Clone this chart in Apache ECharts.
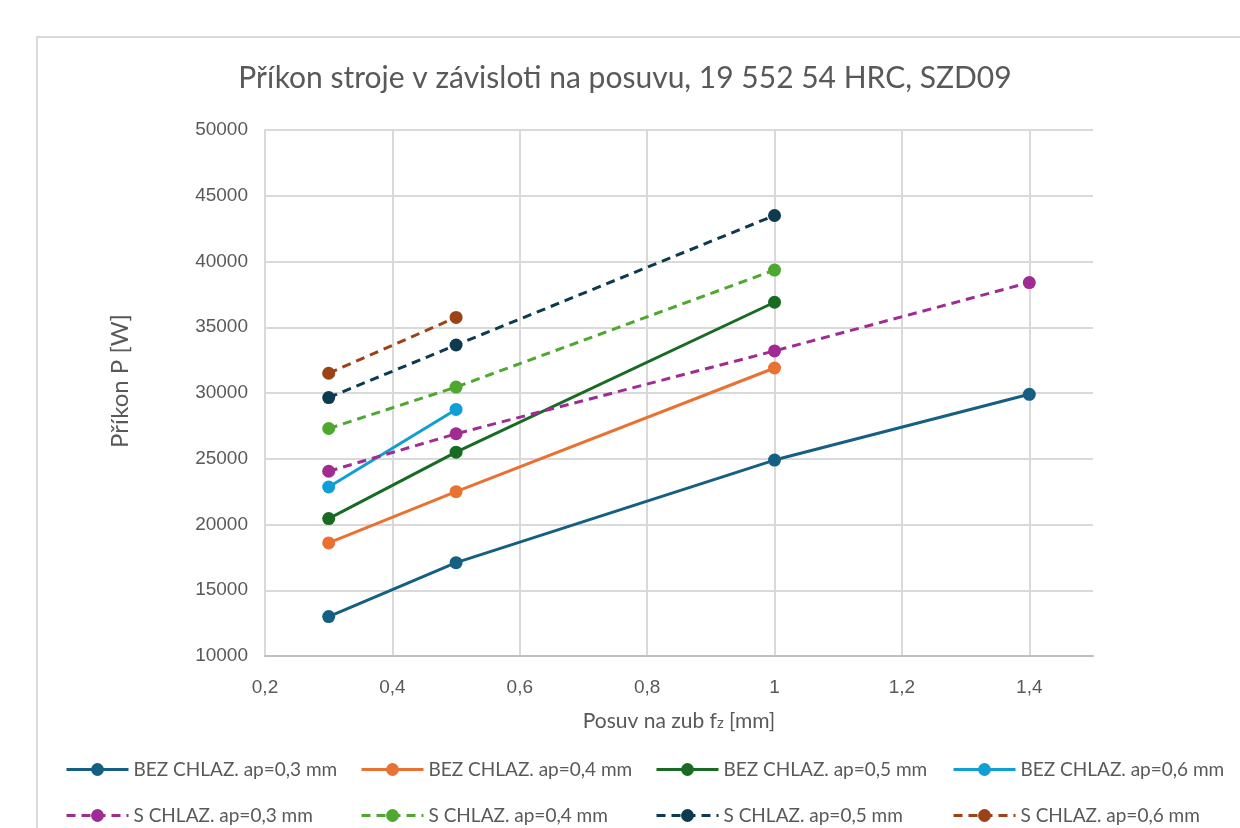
<!DOCTYPE html>
<html>
<head>
<meta charset="utf-8">
<script src="https://cdn.jsdelivr.net/npm/echarts@6/dist/echarts.min.js"></script>
<style>
  html, body { margin: 0; padding: 0; background: #fff; }
  #chart { width: 1240px; height: 828px; }
</style>
</head>
<body>
<div id="chart"></div>
<script>
// posuv na zub fz [mm]
const feeds = [0.3, 0.5, 1, 1.4];

// příkon P [W] - bez chlazení
const bez03 = [13000, 17100, 24900, 29900];
const bez04 = [18600, 22500, 31900];
const bez05 = [20450, 25500, 36900];
const bez06 = [22850, 28750];

// příkon P [W] - s chlazením
const s03 = [24050, 26900, 33200, 38400];
const s04 = [27300, 30450, 39350];
const s05 = [29650, 33650, 43500];
const s06 = [31500, 35750];

const seriesNames = [
  'BEZ CHLAZ. ap=0,3 mm', 'BEZ CHLAZ. ap=0,4 mm', 'BEZ CHLAZ. ap=0,5 mm', 'BEZ CHLAZ. ap=0,6 mm',
  'S CHLAZ. ap=0,3 mm', 'S CHLAZ. ap=0,4 mm', 'S CHLAZ. ap=0,5 mm', 'S CHLAZ. ap=0,6 mm'
];
const seriesValues = [bez03, bez04, bez05, bez06, s03, s04, s05, s06];
const colors = ['#156082', '#E97132', '#196B24', '#0F9ED5', '#A02B93', '#4EA72E', '#0E3A4F', '#9C4316'];

const font = 'Lato';
const numFont = 'Liberation Sans';
const gray = '#595959';

// spáruje posuv s hodnotou
function pairs (vals) {
  return vals.map((v, i) => [feeds[i], v]);
}

let series = seriesValues.map((vals, i) => {
  let dashed = i >= 4;
  return {
    name: seriesNames[i],
    type: 'line',
    data: pairs(vals),
    symbol: 'circle',
    symbolSize: 13,
    color: colors[i],
    lineStyle: { width: 3, type: dashed ? [9, 6] : 'solid', color: colors[i] },
    itemStyle: { color: colors[i] },
    emphasis: { disabled: true },
    animation: false,
    z: 10 - (i % 4)
  };
});

// legenda po sloupcich (BEZ nahoře, S dole)
const legendCols = [65, 360, 655, 952];
const legends = legendCols.map((x, c) => ({
  data: [seriesNames[c], seriesNames[c + 4]],
  orient: 'vertical',
  left: x,
  top: 760,
  padding: 0,
  itemWidth: 62, itemHeight: 16, itemGap: 27,
  lineStyle: { width: 3 },
  textStyle: { color: gray, fontSize: 19, fontFamily: font }
}));

const option = {
  backgroundColor: '#fff',
  title: {
    text: 'Příkon stroje v závisloti na posuvu, 19 552 54 HRC, SZD09',
    left: 625,
    top: 63,
    padding: 0,
    textAlign: 'center',
    textStyle: { color: gray, fontSize: 30, fontWeight: 'normal', fontFamily: font }
  },
  graphic: [{
    type: 'rect',
    shape: { x: 37, y: 37, width: 1300, height: 900 },
    style: { fill: 'none', stroke: '#d9d9d9', lineWidth: 2 },
    silent: true
  }],
  legend: legends,
  grid: { left: 265, right: 147, top: 130, bottom: 172, containLabel: false },
  xAxis: {
    type: 'value',
    min: 0.2, max: 1.5, interval: 0.2,
    name: 'Posuv na zub f{sub|z} [mm]',
    nameLocation: 'middle',
    nameGap: 55,
    nameTextStyle: {
      color: gray, fontSize: 21, fontFamily: font,
      rich: { sub: { fontSize: 15, color: gray, fontFamily: font, padding: [4, 0, 0, 0] } }
    },
    axisLine: { lineStyle: { color: '#bfbfbf', width: 2 } },
    axisTick: { show: false },
    axisLabel: {
      color: gray, fontSize: 19, fontFamily: numFont, margin: 22,
      showMaxLabel: false,
      formatter: v => (Math.round(v * 10) / 10).toString().replace('.', ',')
    },
    splitLine: { show: true, showMaxLine: false, lineStyle: { color: '#d9d9d9', width: 2 } }
  },
  yAxis: {
    type: 'value',
    min: 10000, max: 50000, interval: 5000,
    name: 'Příkon P [W]',
    nameLocation: 'middle',
    nameGap: 133,
    nameTextStyle: { color: gray, fontSize: 24, fontFamily: font, padding: [0, 0, 0, 24] },
    axisLine: { show: true, lineStyle: { color: '#d9d9d9', width: 2 } },
    axisTick: { show: false },
    axisLabel: { color: gray, fontSize: 19, fontFamily: numFont, margin: 17, formatter: v => String(v) },
    splitLine: { lineStyle: { color: '#d9d9d9', width: 2 } }
  },
  series: series
};

const chart = echarts.init(document.getElementById('chart'));
chart.setOption(option);
</script>
</body>
</html>
